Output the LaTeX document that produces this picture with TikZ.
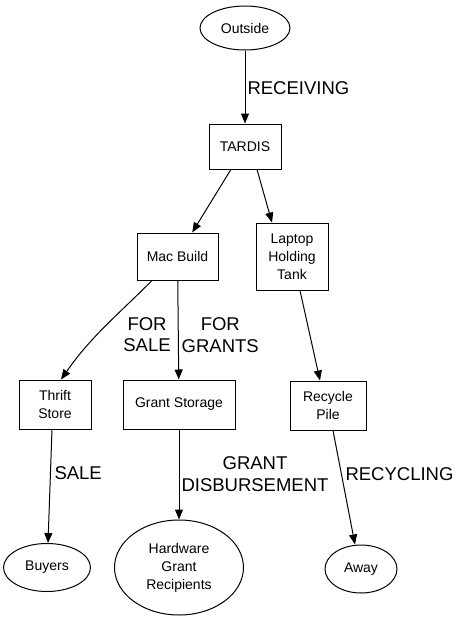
\documentclass[tikz,border=0pt]{standalone}
\usepackage{fontspec}
\setmainfont{Liberation Sans}
\usetikzlibrary{arrows.meta,shapes,positioning}

\begin{document}
\begin{tikzpicture}
  [line width=1pt,
  nodefont/.style={font=\fontsize{14}{18}\selectfont},
  place/.style={rectangle, draw=black, inner sep=0pt, text centered, align=center, nodefont},
  terminal/.style={ellipse, draw=black, inner sep=0pt, text centered, align=center, nodefont},
  flowlabel/.style={font=\fontsize{18.5}{21.5}\selectfont, align=center, inner sep=0pt}]
  \useasboundingbox (0,0) rectangle (461pt,-619pt);
  \node (outside) at (245pt,-28pt) [terminal, minimum width=90pt, minimum height=44pt] {Outside};
  \node (tardis) [place, minimum width=72pt, minimum height=45pt, below=73pt of outside] {TARDIS};
  \draw[-{Triangle[length=10pt,width=8pt]}] (outside) --node[flowlabel, anchor=west, xshift=2pt, yshift=-1.5pt]{RECEIVING} (tardis);

% Sorting
\node (mac-build) [place, minimum width=81pt, minimum height=47pt, below=63pt of tardis, xshift=-67.5pt] {Mac Build};
\node (laptop) [place, minimum width=72pt, minimum height=67pt, below=53pt of tardis, xshift=47pt] {Laptop\\Holding\\Tank};
\draw[-{Triangle[length=10pt,width=8pt]}] (tardis) -- (mac-build);
\draw[-{Triangle[length=10pt,width=8pt]}] ([xshift=12pt]tardis.south) -- ([xshift=-20pt]laptop.north);

% Storage
\node (grant-storage) [place, minimum width=112pt, minimum height=49pt, below=99pt of mac-build, xshift=1.5pt] {Grant Storage};
\node (thrift) [place, minimum width=72pt, minimum height=49pt, left=31pt of grant-storage] {Thrift\\Store};
\node (recycle) [place, minimum width=76pt, minimum height=49pt, below=90pt of laptop, xshift=36pt] {Recycle\\Pile};
\draw[-{Triangle[length=10pt,width=8pt]}] ([xshift=-25.5pt]mac-build.south) to[out=-135,in=55] node[flowlabel, anchor=west, xshift=19pt, yshift=-7pt]{FOR\\SALE} ([xshift=6pt]thrift.north);
\draw[-{Triangle[length=10pt,width=8pt]}] (mac-build) --node[flowlabel, anchor=west, xshift=3pt, yshift=-5pt]{FOR\\GRANTS} (grant-storage);
\draw[-{Triangle[length=10pt,width=8pt]}] ([xshift=8pt]laptop.south) -- ([xshift=-8pt]recycle.north);

% Outlets
\node (hardware) [terminal, minimum width=129pt, minimum height=95pt, below=90pt of grant-storage] {Hardware\\Grant\\Recipients};
\node (buyers) [terminal, minimum width=87pt, minimum height=48pt, left=23pt of hardware] {Buyers};
\node (away) [terminal, minimum width=72pt, minimum height=48pt, below=114pt of recycle, xshift=33pt] {Away};
\draw[-{Triangle[length=10pt,width=8pt]}] ([xshift=-3pt]thrift.south) --node[flowlabel, anchor=west, xshift=4pt, yshift=13pt]{SALE} ([xshift=1pt]buyers.north);
\draw[-{Triangle[length=10pt,width=8pt]}] (grant-storage) --node[flowlabel, anchor=west, xshift=2pt, yshift=0.5pt]{GRANT\\DISBURSEMENT} (hardware);
\draw[-{Triangle[length=10pt,width=8pt]}] ([xshift=5pt]recycle.south) --node[flowlabel, anchor=west, xshift=1pt, yshift=13pt]{RECYCLING} ([xshift=-6pt]away.north);
\end{tikzpicture}
\end{document}
